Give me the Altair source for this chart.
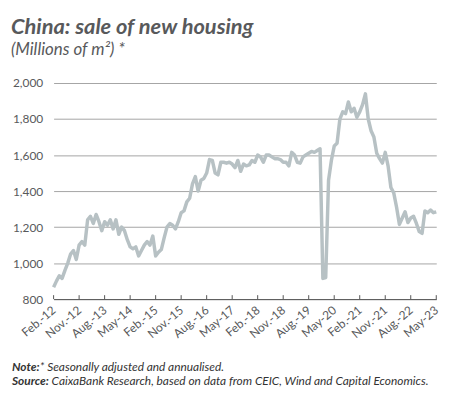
import altair as alt
import pandas as pd

values = [
    866, 900, 930, 915, 960, 1000, 1050, 1070, 1020, 1100,
    1120, 1100, 1240, 1260, 1220, 1270, 1230, 1180, 1230, 1210,
    1240, 1190, 1240, 1160, 1200, 1180, 1130, 1090, 1080, 1090,
    1040, 1070, 1100, 1120, 1100, 1150, 1040, 1060, 1075, 1140,
    1200, 1220, 1210, 1190, 1230, 1280, 1290, 1340, 1360, 1440,
    1480, 1400, 1460, 1470, 1500, 1575, 1570, 1500, 1490, 1560,
    1560, 1555, 1560, 1550, 1530, 1570, 1510, 1550, 1540, 1545,
    1570, 1560, 1600, 1590, 1560, 1600, 1600, 1590, 1580, 1580,
    1575, 1560, 1560, 1540, 1615, 1600, 1560, 1555, 1590, 1600,
    1610, 1620, 1615, 1625, 1635, 915, 920, 1460, 1570, 1650,
    1665, 1800, 1840, 1830, 1895, 1840, 1860, 1810, 1840, 1880,
    1940, 1800, 1735, 1700, 1610, 1580, 1555, 1615, 1540, 1420,
    1390, 1310, 1215, 1250, 1285, 1225, 1250, 1260, 1220, 1175,
    1165, 1290, 1280, 1295, 1280, 1285,
]
tick_labels = ["Feb.-12", "Nov.-12", "Aug.-13", "May-14", "Feb.-15", "Nov.-15",
               "Aug.-16", "May-17", "Feb.-18", "Nov.-18", "Aug.-19", "May-20",
               "Feb.-21", "Nov.-21", "Aug.-22", "May-23"]
y_ticks = [800, 1000, 1200, 1400, 1600, 1800, 2000]

title = "China: sale of new housing"
subtitle = "(Millions of m²) *"
note_lbl, note_txt = "Note:", "* Seasonally adjusted and annualised."
src_lbl, src_txt = "Source:", "CaixaBank Research, based on data from CEIC, Wind and Capital Economics."

FONT = "Lato"
GREY = "#58595b"

df = pd.DataFrame({"i": list(range(len(values))), "v": values})
tick_pos = [k * 9 for k in range(len(tick_labels))]
label_arr = "[" + ",".join("'" + t + "'" for t in tick_labels) + "]"

xscale = alt.Scale(domain=[0, len(values) - 1], nice=False, zero=False)
yscale = alt.Scale(domain=[800, 2000], nice=False, zero=False)

xaxis = alt.Axis(
    values=tick_pos, labelExpr=label_arr + "[round(datum.value/9)]",
    title=None, grid=False, ticks=False, domainColor="#555555", domainWidth=1,
    labelAngle=-40, labelAlign="right", labelBaseline="middle", labelPadding=9,
    labelOverlap=False, labelBound=False, labelFlush=False,
    labelFont=FONT, labelFontSize=12, labelColor=GREY)

line = alt.Chart(df).mark_line(color="#b7c1c4", strokeWidth=3.5, strokeJoin="round").encode(
    x=alt.X("i:Q", scale=xscale, axis=xaxis),
    y=alt.Y("v:Q", scale=yscale, axis=alt.Axis(
        values=y_ticks, format=",.0f", title=None, domain=False, ticks=False,
        gridColor="#a5a5a5", gridWidth=1, labelPadding=11, labelOverlap=False,
        labelFont=FONT, labelFontSize=12, labelColor=GREY)),
)

ticks = alt.Chart(pd.DataFrame({"i": tick_pos})).mark_rule(color="#555555", strokeWidth=1).encode(
    x=alt.X("i:Q", scale=xscale, axis=xaxis), y=alt.value(218), y2=alt.value(214))


def txt(s, x, y, size, weight="normal", style="italic"):
    return alt.Chart(pd.DataFrame({"s": [s]})).mark_text(
        align="left", baseline="alphabetic", font=FONT, fontSize=size,
        fontWeight=weight, fontStyle=style, color=GREY if size > 13 else "#333333").encode(
        x=alt.value(x), y=alt.value(y), text="s:N")


chart = alt.layer(
    line, ticks,
    txt(title, -43, -49, 22, "bold"),
    txt(subtitle, -43, -28, 17),
    txt(note_lbl, -42, 290, 12, "bold"),
    txt(note_txt, -14, 290, 12),
    txt(src_lbl, -42, 305, 12, "bold"),
    txt(src_txt, -2, 305, 12),
).properties(
    width=386, height=218, autosize="none",
    padding={"left": 46, "top": 74, "right": 30, "bottom": 90},
).configure_view(stroke=None)

chart.save("out.html", embed_options={"renderer": "svg", "actions": False})
